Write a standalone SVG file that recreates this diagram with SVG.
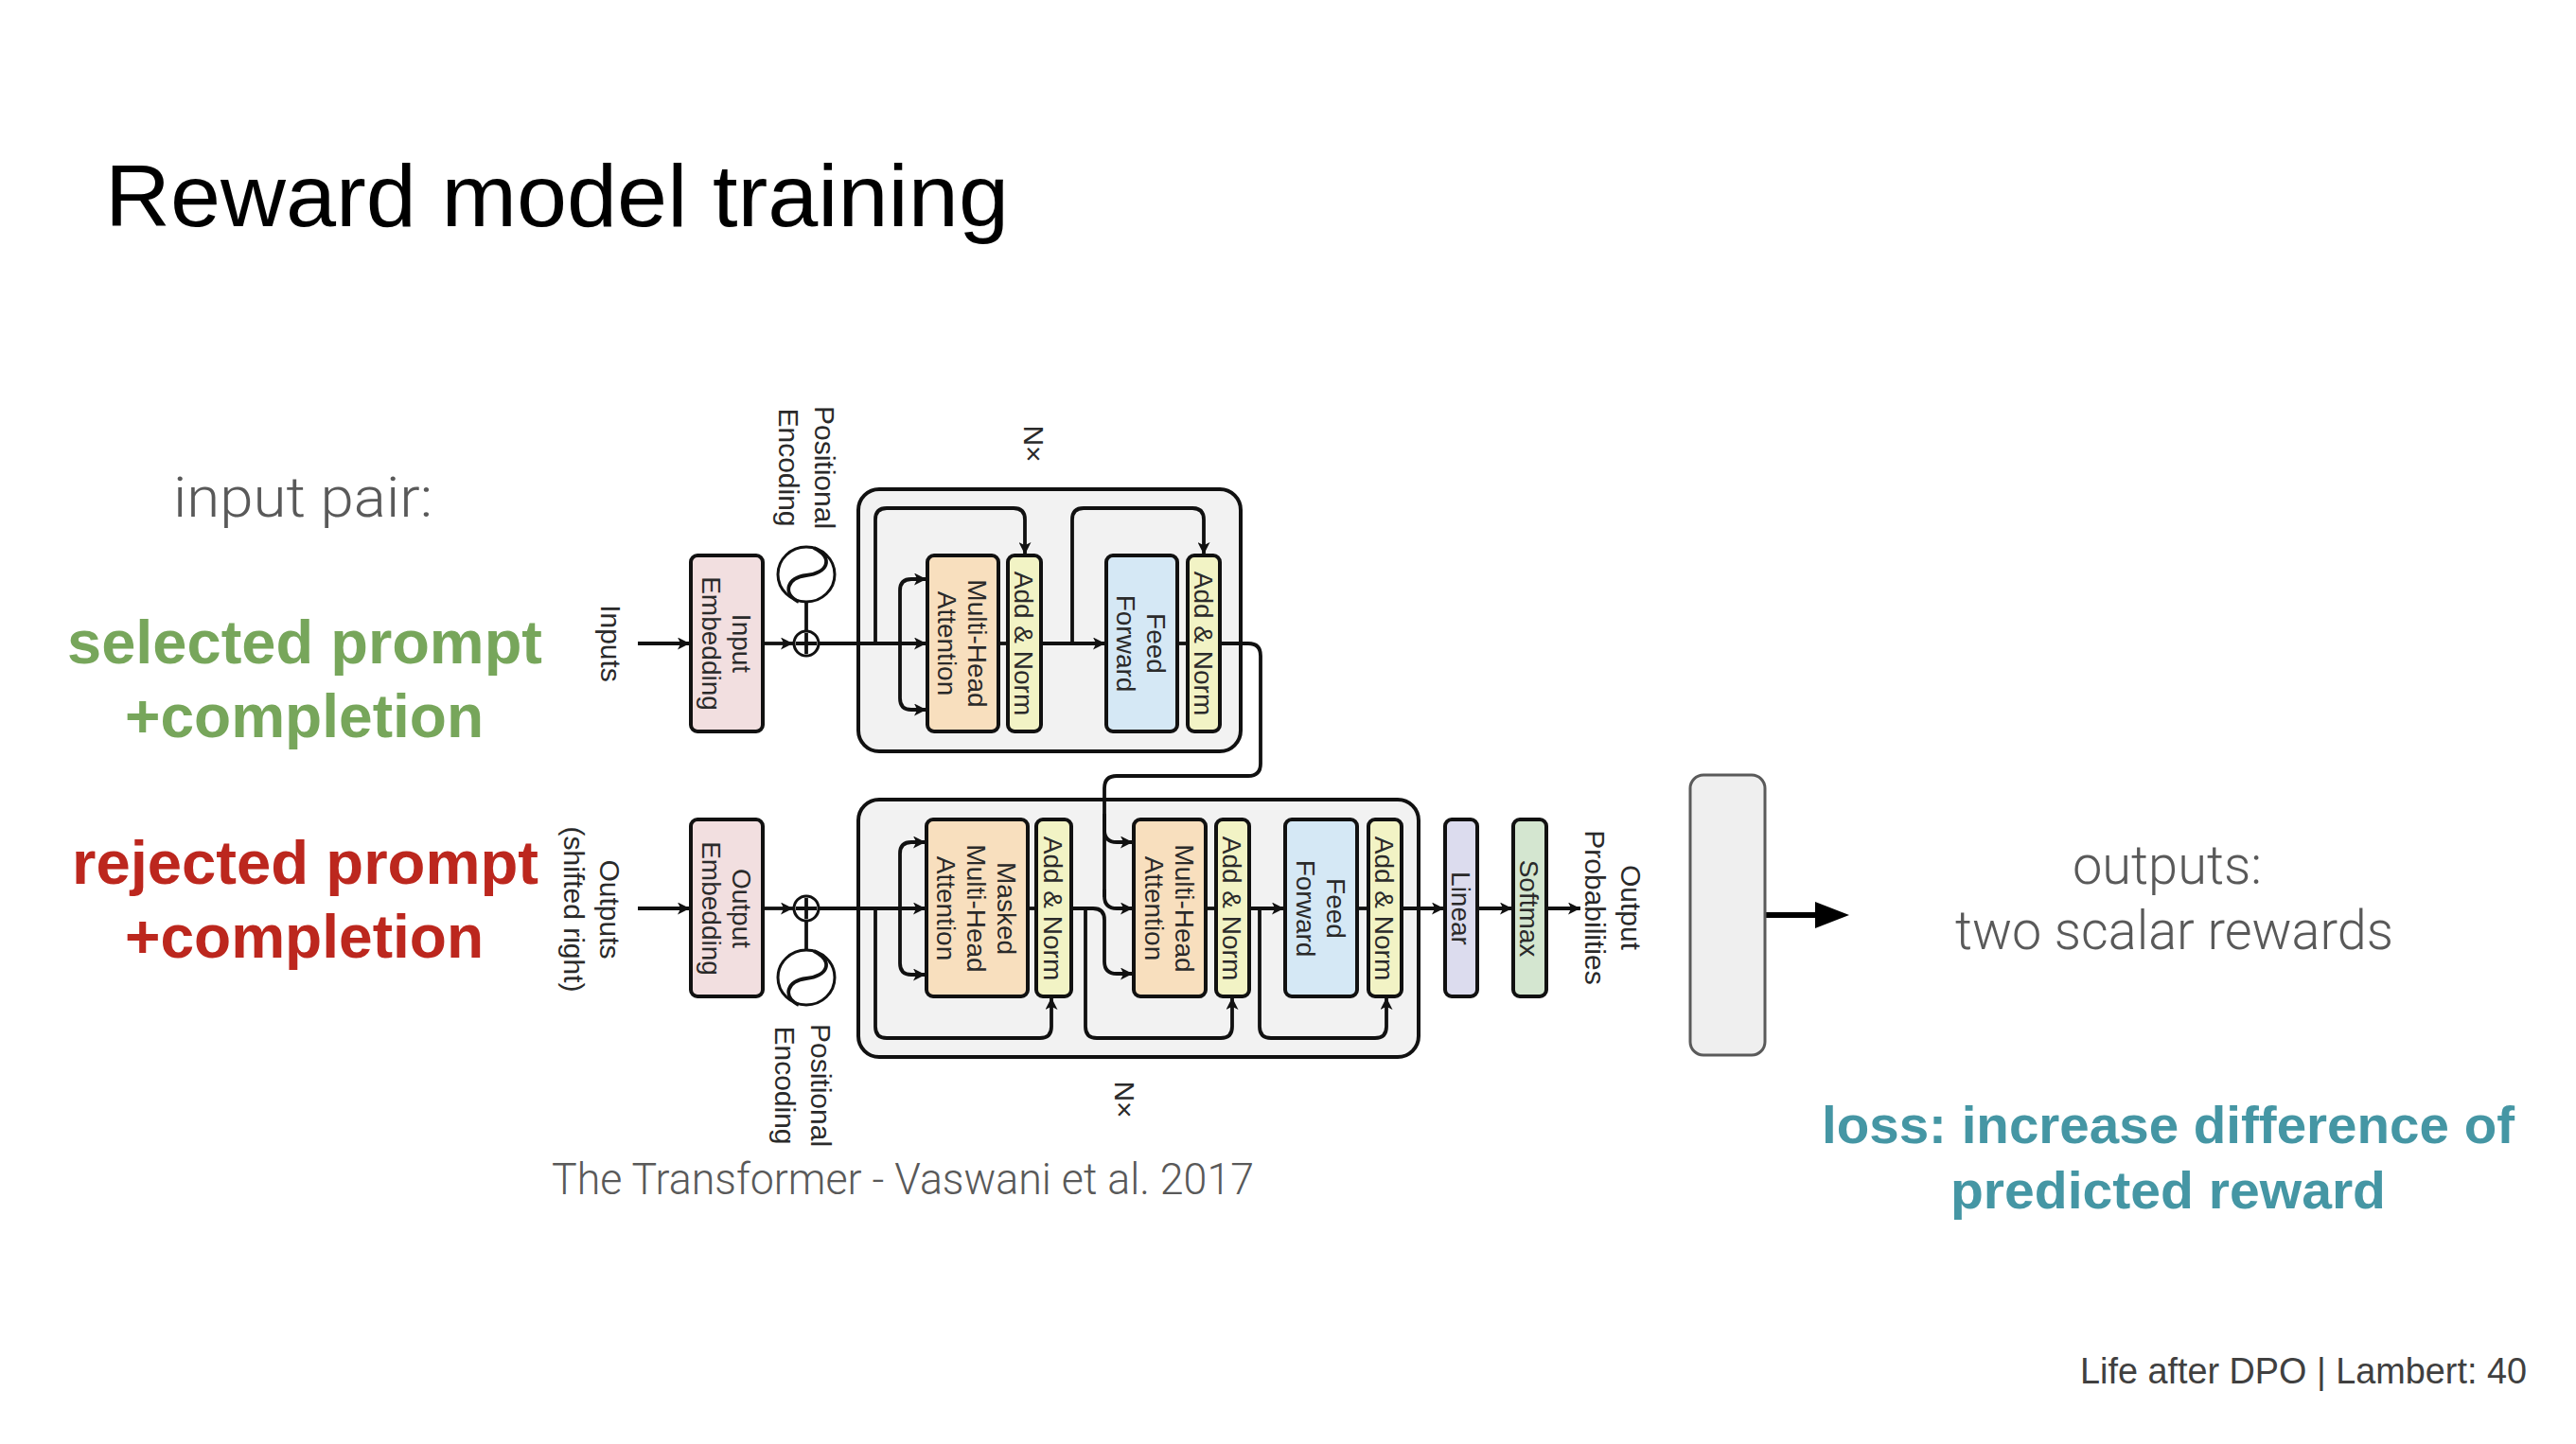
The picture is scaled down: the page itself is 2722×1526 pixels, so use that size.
<svg xmlns="http://www.w3.org/2000/svg" width="2722" height="1526" viewBox="0 0 2722 1526">
<defs>
<style>
.t{font-family:"Liberation Sans",Arial,sans-serif}
.lt{font-family:Roboto,"Liberation Sans",Arial,sans-serif;font-weight:300;fill:#595959}
.b{font-family:"Liberation Sans",Arial,sans-serif;font-weight:bold}
.lab{font-family:"Liberation Sans",Arial,sans-serif;font-size:28px;fill:#2a2a2a;text-anchor:middle}
.olab{font-family:"Liberation Sans",Arial,sans-serif;font-size:30px;fill:#2a2a2a;text-anchor:middle}
.box{stroke:#111;stroke-width:4}
.blk{fill:#f2f2f2;stroke:#111;stroke-width:4}
.ln{fill:none;stroke:#111;stroke-width:3.8}
.ar{fill:none;stroke:#111;stroke-width:3.8;marker-end:url(#ah)}
.mha{fill:#f8dfbe}
.an{fill:#f2f3c5}
.ff{fill:#d5e8f5}
.emb{fill:#f2dfe0}
.lin{fill:#dcdcee}
.sm{fill:#d4e6d0}
</style>
<marker id="ah" viewBox="0 0 10 10" refX="10" refY="5" markerWidth="15" markerHeight="13" markerUnits="userSpaceOnUse" orient="auto"><path d="M0,0 L10,5 L0,10 L2.5,5 z" fill="#111"/></marker>
</defs>
<rect width="2722" height="1526" fill="#ffffff"/>

<g id="title"><text class="t" x="111" y="239" font-size="92" textLength="955" lengthAdjust="spacingAndGlyphs" fill="#000">Reward model training</text></g>

<g id="input-pair">
<text class="lt" x="183" y="546" font-size="60" textLength="274" lengthAdjust="spacingAndGlyphs">input pair:</text>
</g>
<g id="selected">
<text class="b" x="71" y="701" font-size="64" textLength="502" lengthAdjust="spacingAndGlyphs" fill="#77a65b">selected prompt</text>
<text class="b" x="132" y="779" font-size="64" textLength="379" lengthAdjust="spacingAndGlyphs" fill="#77a65b">+completion</text>
</g>
<g id="rejected">
<text class="b" x="76" y="934" font-size="64" textLength="493" lengthAdjust="spacingAndGlyphs" fill="#bc271e">rejected prompt</text>
<text class="b" x="132" y="1012" font-size="64" textLength="379" lengthAdjust="spacingAndGlyphs" fill="#bc271e">+completion</text>
</g>

<g id="encoder-block"><rect class="blk" x="907" y="517" width="404" height="277" rx="22"/></g>
<g id="decoder-block"><rect class="blk" x="907" y="845" width="592" height="272" rx="22"/></g>

<g id="connectors">
<path class="ar" d="M674,680 H729"/>
<path class="ar" d="M806,680 H838"/>
<path class="ln" d="M852,636 V667"/>
<path class="ar" d="M865,680 H979"/>
<path class="ar" d="M951,680 V624 Q951,612 963,612 H979"/>
<path class="ar" d="M951,680 V738 Q951,750 963,750 H979"/>
<path class="ar" d="M925,680 V549 Q925,537 937,537 H1071 Q1083,537 1083,549 V586"/>
<path class="ln" d="M1055,680 H1065"/>
<path class="ar" d="M1100,680 H1168"/>
<path class="ar" d="M1133,680 V549 Q1133,537 1145,537 H1260 Q1272,537 1272,549 V586"/>
<path class="ln" d="M1244,680 H1255"/>
<path class="ln" d="M1289,680 H1319 Q1332,680 1332,693 V807 Q1332,820 1319,820 H1180 Q1167,820 1167,833 V948"/>
<path class="ar" d="M1167,860 V877 Q1167,890 1180,890 H1197"/>
<path class="ar" d="M1167,940 V947 Q1167,960 1180,960 H1197"/>
<path class="ar" d="M674,960 H729"/>
<path class="ar" d="M806,960 H838"/>
<path class="ln" d="M852,973 V1004"/>
<path class="ar" d="M865,960 H978"/>
<path class="ar" d="M951,960 V902 Q951,890 963,890 H978"/>
<path class="ar" d="M951,960 V1018 Q951,1030 963,1030 H978"/>
<path class="ar" d="M925,960 V1085 Q925,1097 937,1097 H1099 Q1111,1097 1111,1085 V1054"/>
<path class="ln" d="M1086,960 H1095"/>
<path class="ar" d="M1132,960 H1155 Q1167,960 1167,972 V1016 Q1167,1029 1180,1029 H1197"/>
<path class="ar" d="M1147,960 V1085 Q1147,1097 1159,1097 H1290 Q1302,1097 1302,1085 V1054"/>
<path class="ln" d="M1274,960 H1285"/>
<path class="ar" d="M1320,960 H1357"/>
<path class="ar" d="M1331,960 V1085 Q1331,1097 1343,1097 H1453 Q1465,1097 1465,1085 V1054"/>
<path class="ln" d="M1434,960 H1446"/>
<path class="ar" d="M1481,960 H1526"/>
<path class="ar" d="M1561,960 H1598"/>
<path class="ar" d="M1634,960 H1670"/>
<path d="M1865,967 H1922" stroke="#000" stroke-width="6" fill="none"/>
<path d="M1918,953 L1954,967 L1918,981 z" fill="#000"/>
</g>

<g id="inputs-label"><text class="olab" transform="translate(645,680) rotate(90)" y="10">Inputs</text></g>
<g id="input-embedding">
<rect class="box emb" x="730" y="587" width="76" height="186" rx="7"/>
<text class="lab" transform="translate(768,680) rotate(90)"><tspan x="0" y="-6">Input</tspan><tspan x="0" y="26">Embedding</tspan></text>
</g>
<g id="enc-add"><circle cx="852" cy="680" r="13" fill="#fff" stroke="#111" stroke-width="3"/><path class="ln" d="M852,669 V691 M841,680 H863" stroke-width="2.5"/></g>
<g id="enc-pe">
<ellipse cx="852" cy="607" rx="30" ry="29" fill="#fff" stroke="#111" stroke-width="3"/>
<path class="ln" stroke-width="2.5" d="M860,579 C882,590 874,606 852,608 C832,610 826,627 844,636"/>
<text class="olab" transform="translate(853,494) rotate(90)"><tspan x="0" y="-8">Positional</tspan><tspan x="0" y="30">Encoding</tspan></text>
</g>
<g id="enc-nx"><text class="olab" transform="translate(1092,469) rotate(90)" y="10">N×</text></g>
<g id="enc-mha">
<rect class="box mha" x="980" y="587" width="75" height="186" rx="7"/>
<text class="lab" transform="translate(1017,680) rotate(90)"><tspan x="0" y="-6">Multi-Head</tspan><tspan x="0" y="26">Attention</tspan></text>
</g>
<g id="enc-addnorm1">
<rect class="box an" x="1065" y="587" width="35" height="186" rx="7"/>
<text class="lab" transform="translate(1082,680) rotate(90)" y="10">Add &amp; Norm</text>
</g>
<g id="enc-ff">
<rect class="box ff" x="1169" y="587" width="75" height="186" rx="7"/>
<text class="lab" transform="translate(1206,680) rotate(90)"><tspan x="0" y="-6">Feed</tspan><tspan x="0" y="26">Forward</tspan></text>
</g>
<g id="enc-addnorm2">
<rect class="box an" x="1255" y="587" width="34" height="186" rx="7"/>
<text class="lab" transform="translate(1272,680) rotate(90)" y="10">Add &amp; Norm</text>
</g>

<g id="outputs-label"><text class="olab" transform="translate(626,961) rotate(90)"><tspan x="0" y="-8">Outputs</tspan><tspan x="0" y="30">(shifted right)</tspan></text></g>
<g id="output-embedding">
<rect class="box emb" x="730" y="866" width="76" height="187" rx="7"/>
<text class="lab" transform="translate(768,960) rotate(90)"><tspan x="0" y="-6">Output</tspan><tspan x="0" y="26">Embedding</tspan></text>
</g>
<g id="dec-add"><circle cx="852" cy="960" r="13" fill="#fff" stroke="#111" stroke-width="3"/><path class="ln" d="M852,949 V971 M841,960 H863" stroke-width="2.5"/></g>
<g id="dec-pe">
<ellipse cx="852" cy="1033" rx="30" ry="29" fill="#fff" stroke="#111" stroke-width="3"/>
<path class="ln" stroke-width="2.5" d="M860,1005 C882,1016 874,1032 852,1034 C832,1036 826,1053 844,1062"/>
<text class="olab" transform="translate(849,1147) rotate(90)"><tspan x="0" y="-8">Positional</tspan><tspan x="0" y="30">Encoding</tspan></text>
</g>
<g id="dec-nx"><text class="olab" transform="translate(1188,1162) rotate(90)" y="10">N×</text></g>
<g id="dec-masked-mha">
<rect class="box mha" x="979" y="866" width="107" height="187" rx="7"/>
<text class="lab" transform="translate(1032,960) rotate(90)"><tspan x="0" y="-22">Masked</tspan><tspan x="0" y="10">Multi-Head</tspan><tspan x="0" y="42">Attention</tspan></text>
</g>
<g id="dec-addnorm1">
<rect class="box an" x="1095" y="866" width="37" height="187" rx="7"/>
<text class="lab" transform="translate(1113,960) rotate(90)" y="10">Add &amp; Norm</text>
</g>
<g id="dec-mha">
<rect class="box mha" x="1198" y="866" width="76" height="187" rx="7"/>
<text class="lab" transform="translate(1236,960) rotate(90)"><tspan x="0" y="-6">Multi-Head</tspan><tspan x="0" y="26">Attention</tspan></text>
</g>
<g id="dec-addnorm2">
<rect class="box an" x="1285" y="866" width="35" height="187" rx="7"/>
<text class="lab" transform="translate(1302,960) rotate(90)" y="10">Add &amp; Norm</text>
</g>
<g id="dec-ff">
<rect class="box ff" x="1358" y="866" width="76" height="187" rx="7"/>
<text class="lab" transform="translate(1396,960) rotate(90)"><tspan x="0" y="-6">Feed</tspan><tspan x="0" y="26">Forward</tspan></text>
</g>
<g id="dec-addnorm3">
<rect class="box an" x="1446" y="866" width="35" height="187" rx="7"/>
<text class="lab" transform="translate(1463,960) rotate(90)" y="10">Add &amp; Norm</text>
</g>
<g id="linear">
<rect class="box lin" x="1527" y="866" width="34" height="187" rx="7"/>
<text class="lab" transform="translate(1544,960) rotate(90)" y="10">Linear</text>
</g>
<g id="softmax">
<rect class="box sm" x="1599" y="866" width="35" height="187" rx="7"/>
<text class="lab" transform="translate(1616,960) rotate(90)" y="10">Softmax</text>
</g>
<g id="output-probabilities"><text class="olab" transform="translate(1705,959) rotate(90)"><tspan x="0" y="-8">Output</tspan><tspan x="0" y="30">Probabilities</tspan></text></g>

<g id="caption"><text class="lt" x="583" y="1262" font-size="46" textLength="742" lengthAdjust="spacingAndGlyphs">The Transformer - Vaswani et al. 2017</text></g>

<g id="reward-head"><rect x="1786" y="819" width="79" height="296" rx="14" fill="#efefef" stroke="#5a5a5a" stroke-width="3"/></g>

<g id="outputs-text">
<text class="lt" x="2190" y="934" font-size="58" textLength="200" lengthAdjust="spacingAndGlyphs">outputs:</text>
<text class="lt" x="2066" y="1003" font-size="58" textLength="463" lengthAdjust="spacingAndGlyphs">two scalar rewards</text>
</g>
<g id="loss-text">
<text class="b" x="1925" y="1208" font-size="56" textLength="732" lengthAdjust="spacingAndGlyphs" fill="#4596a4">loss: increase difference of</text>
<text class="b" x="2061" y="1277" font-size="56" textLength="460" lengthAdjust="spacingAndGlyphs" fill="#4596a4">predicted reward</text>
</g>
<g id="footer"><text class="t" x="2198" y="1462" font-size="38" textLength="472" lengthAdjust="spacingAndGlyphs" fill="#404040">Life after DPO | Lambert: 40</text></g>
</svg>
